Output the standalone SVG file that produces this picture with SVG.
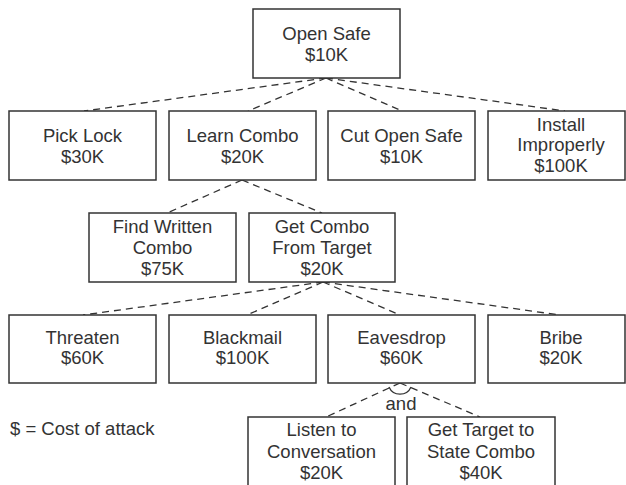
<svg xmlns="http://www.w3.org/2000/svg" width="626" height="485" viewBox="0 0 626 485">
  <style>
    .box { fill: #ffffff; stroke: #333333; stroke-width: 1.5; }
    .lbl { font-family: "Liberation Sans", Arial, sans-serif; font-size: 18.5px; fill: #333333; text-anchor: middle; }
    .legend { font-family: "Liberation Sans", Arial, sans-serif; font-size: 18.5px; fill: #333333; }
    .edge { fill: none; stroke: #333333; stroke-width: 1.3; stroke-dasharray: 7 5; }
    .arc { fill: none; stroke: #333333; stroke-width: 1.3; }
  </style>
  <rect width="626" height="485" fill="#ffffff"/>

  <!-- connectors (attack tree edges) -->
  <g id="connectors">
    <line class="edge" x1="326" y1="78" x2="84" y2="111"/>
    <line class="edge" x1="326" y1="78" x2="248" y2="111"/>
    <line class="edge" x1="326" y1="78" x2="402" y2="111"/>
    <line class="edge" x1="326" y1="78" x2="565" y2="111"/>

    <line class="edge" x1="242" y1="180" x2="167" y2="213"/>
    <line class="edge" x1="242" y1="180" x2="322" y2="213"/>

    <line class="edge" x1="323" y1="282" x2="83" y2="315"/>
    <line class="edge" x1="323" y1="282" x2="247" y2="315"/>
    <line class="edge" x1="323" y1="282" x2="400" y2="315"/>
    <line class="edge" x1="323" y1="282" x2="560" y2="315"/>

    <line class="edge" x1="400" y1="383" x2="326" y2="417"/>
    <line class="edge" x1="400" y1="383" x2="480" y2="417"/>
    <!-- AND marker -->
    <path class="arc" d="M389,387 A12,12 0 0 0 411,387"/>
    <text class="lbl" x="401" y="410">and</text>
  </g>

  <g id="open-safe">
    <rect class="box" x="253" y="9" width="147" height="69"/>
    <text class="lbl" x="326.5" y="39.5">Open Safe</text>
    <text class="lbl" x="326.5" y="61">$10K</text>
  </g>

  <g id="pick-lock">
    <rect class="box" x="9" y="111" width="147" height="69"/>
    <text class="lbl" x="82.5" y="141.5">Pick Lock</text>
    <text class="lbl" x="82.5" y="162.5">$30K</text>
  </g>
  <g id="learn-combo">
    <rect class="box" x="169" y="111" width="147" height="69"/>
    <text class="lbl" x="242.5" y="141.5">Learn Combo</text>
    <text class="lbl" x="242.5" y="162.5">$20K</text>
  </g>
  <g id="cut-open-safe">
    <rect class="box" x="328" y="111" width="147" height="69"/>
    <text class="lbl" x="401.5" y="141.5">Cut Open Safe</text>
    <text class="lbl" x="401.5" y="162.5">$10K</text>
  </g>
  <g id="install-improperly">
    <rect class="box" x="488" y="111" width="137" height="69"/>
    <text class="lbl" x="561" y="130.5">Install</text>
    <text class="lbl" x="561" y="151.3">Improperly</text>
    <text class="lbl" x="561" y="172.1">$100K</text>
  </g>

  <g id="find-written-combo">
    <rect class="box" x="89" y="213" width="147" height="69"/>
    <text class="lbl" x="162.5" y="233">Find Written</text>
    <text class="lbl" x="162.5" y="253.8">Combo</text>
    <text class="lbl" x="162.5" y="274.6">$75K</text>
  </g>
  <g id="get-combo-from-target">
    <rect class="box" x="249" y="213" width="146" height="69"/>
    <text class="lbl" x="322" y="233">Get Combo</text>
    <text class="lbl" x="322" y="253.8">From Target</text>
    <text class="lbl" x="322" y="274.6">$20K</text>
  </g>

  <g id="threaten">
    <rect class="box" x="9" y="315" width="147" height="68"/>
    <text class="lbl" x="82.5" y="343.5">Threaten</text>
    <text class="lbl" x="82.5" y="364">$60K</text>
  </g>
  <g id="blackmail">
    <rect class="box" x="169" y="315" width="147" height="68"/>
    <text class="lbl" x="242.5" y="343.5">Blackmail</text>
    <text class="lbl" x="242.5" y="364">$100K</text>
  </g>
  <g id="eavesdrop">
    <rect class="box" x="328" y="315" width="147" height="68"/>
    <text class="lbl" x="401.5" y="343.5">Eavesdrop</text>
    <text class="lbl" x="401.5" y="364">$60K</text>
  </g>
  <g id="bribe">
    <rect class="box" x="488" y="315" width="137" height="68"/>
    <text class="lbl" x="561" y="343.5">Bribe</text>
    <text class="lbl" x="561" y="364">$20K</text>
  </g>

  <g id="listen-to-conversation">
    <rect class="box" x="248" y="417" width="147" height="72"/>
    <text class="lbl" x="321.5" y="436">Listen to</text>
    <text class="lbl" x="321.5" y="457.5">Conversation</text>
    <text class="lbl" x="321.5" y="479">$20K</text>
  </g>
  <g id="get-target-to-state-combo">
    <rect class="box" x="407" y="417" width="148" height="72"/>
    <text class="lbl" x="481" y="436">Get Target to</text>
    <text class="lbl" x="481" y="457.5">State Combo</text>
    <text class="lbl" x="481" y="479">$40K</text>
  </g>

  <g id="legend">
    <text class="legend" x="10" y="435">$ = Cost of attack</text>
  </g>
</svg>
